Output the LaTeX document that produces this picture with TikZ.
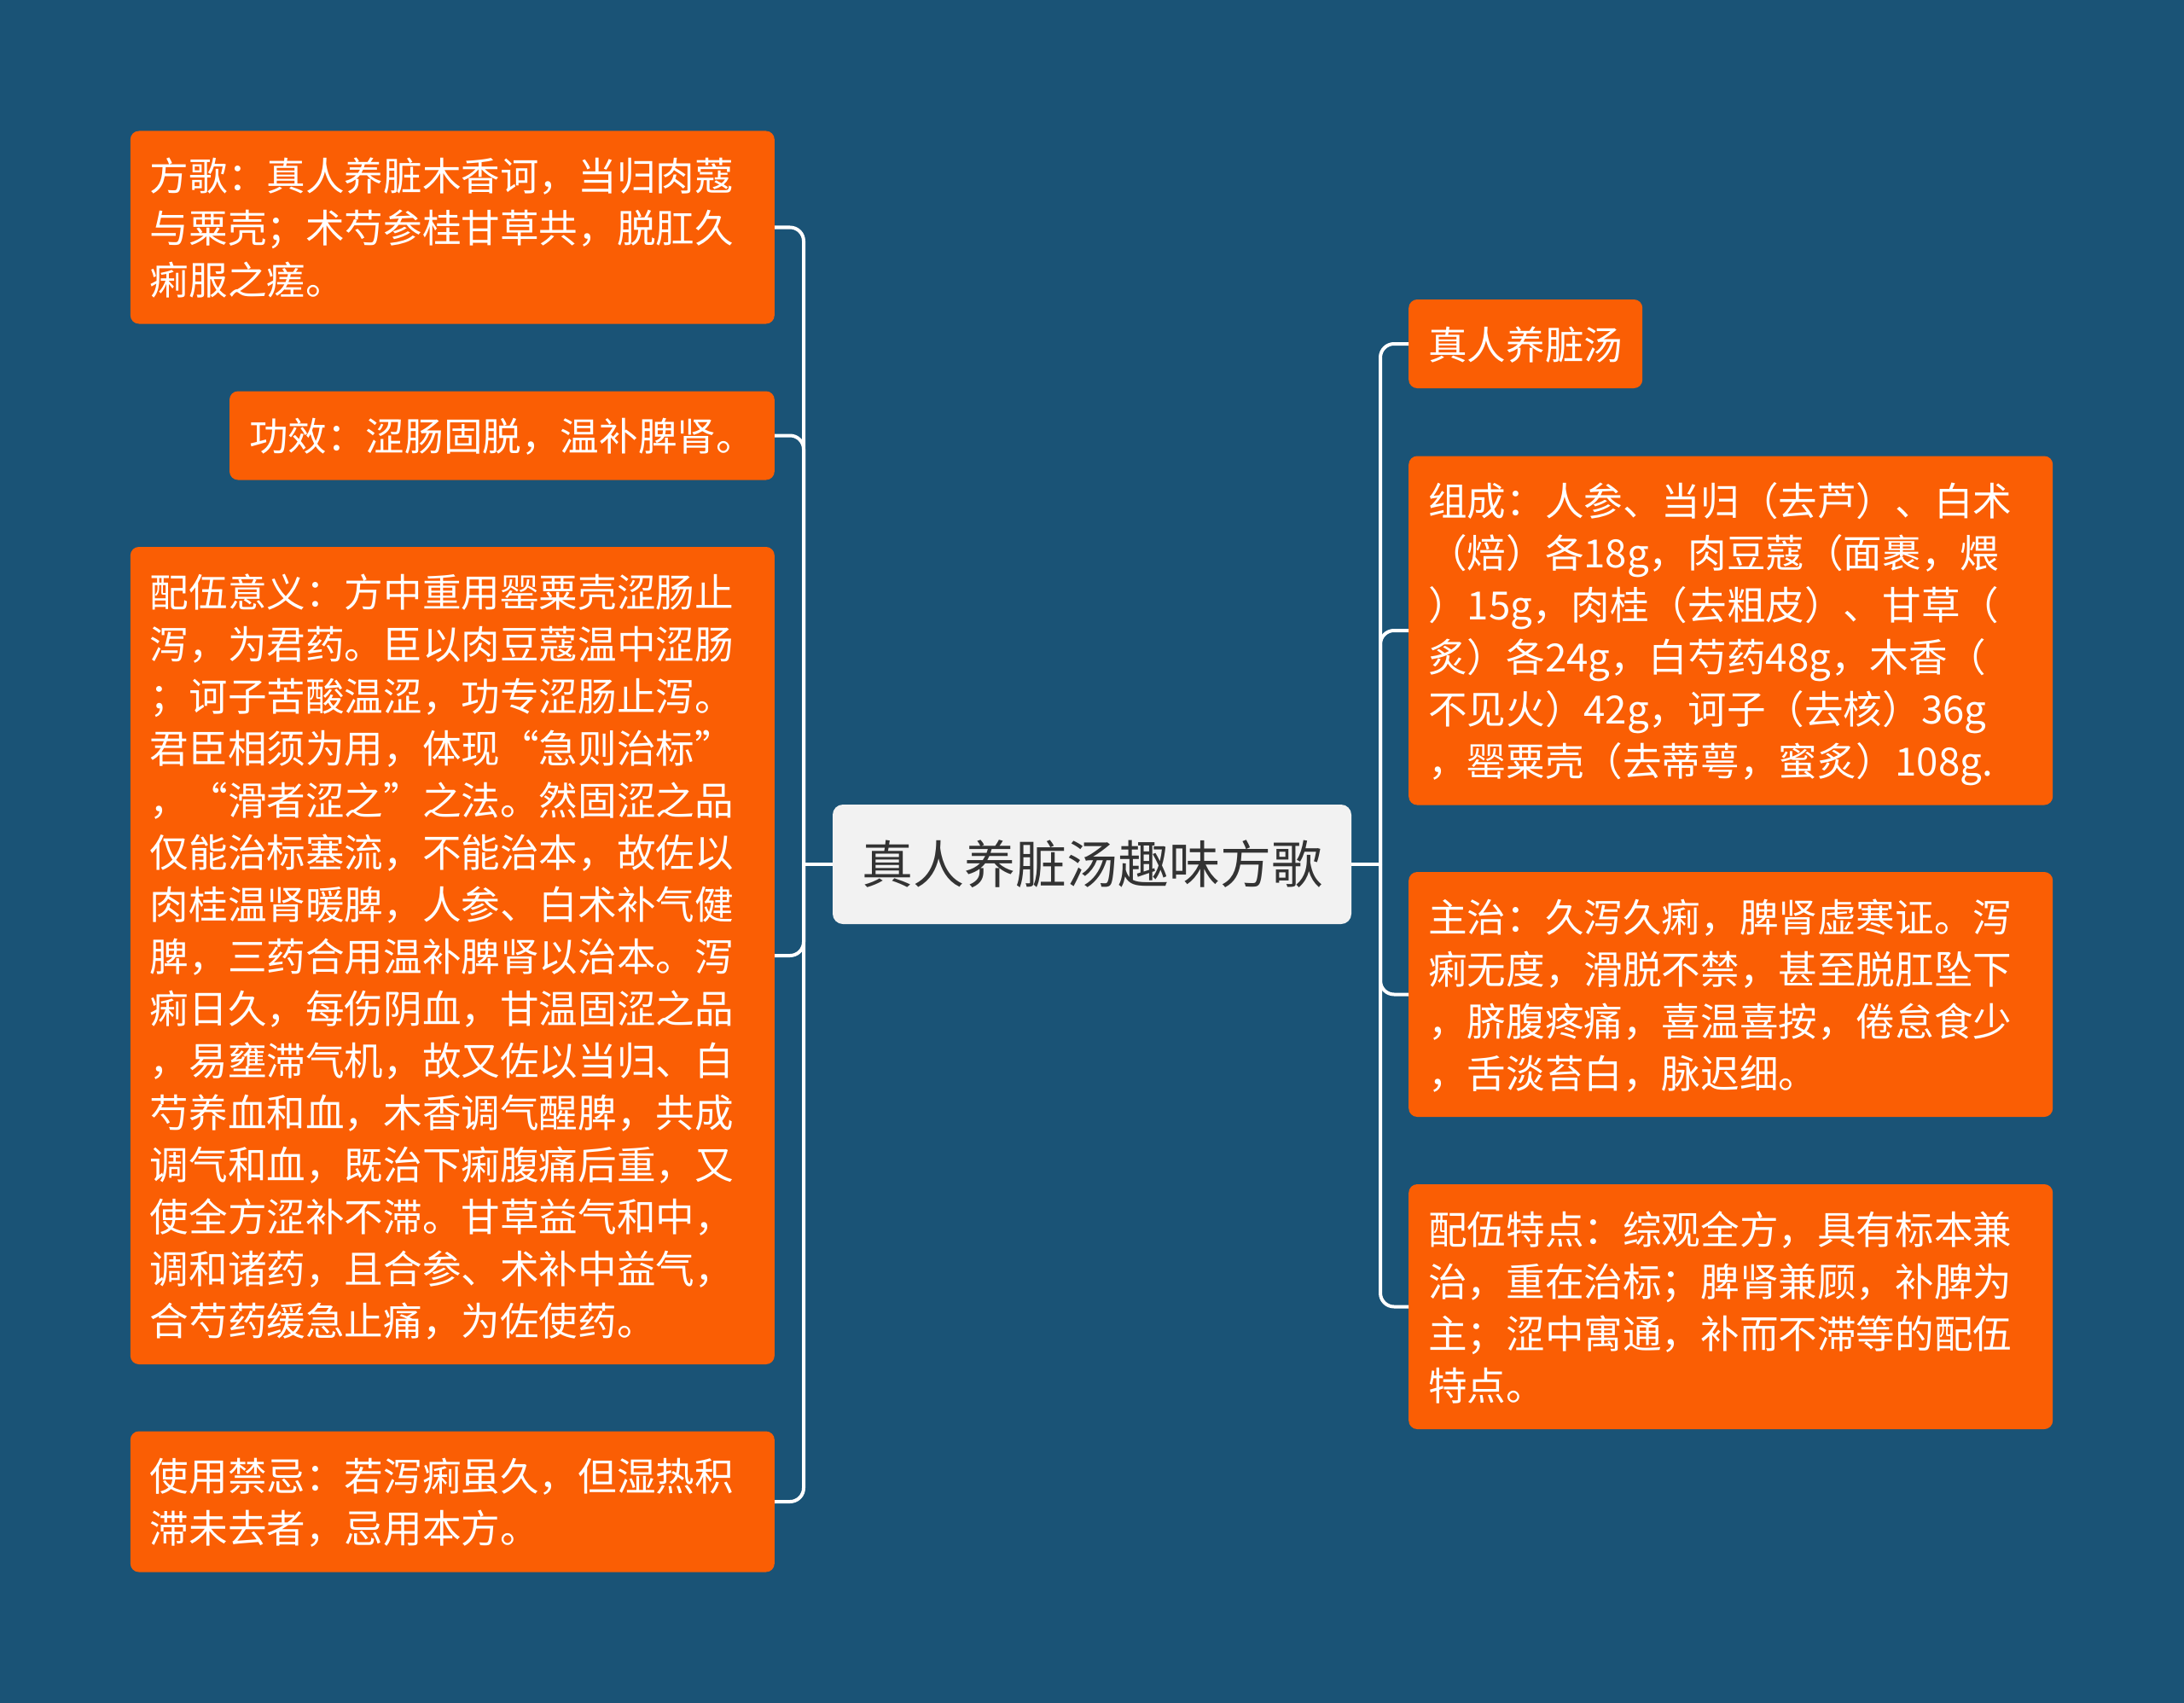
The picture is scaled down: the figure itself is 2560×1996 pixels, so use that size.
\documentclass[tikz,border=0pt]{standalone}
\usepackage{fontspec}
\usepackage{tikz}
\setmainfont{Noto Sans CJK SC}

\definecolor{bgblue}{RGB}{26,83,118}
\definecolor{leaforange}{RGB}{250,94,4}
\definecolor{rootgray}{RGB}{242,242,242}
\definecolor{roottext}{RGB}{51,51,51}
\newcommand\lnstrut{\rule[-12.2pt]{0pt}{61pt}}

\begin{document}
\begin{tikzpicture}[
                    x=1pt, y=-1pt,
                    leaf/.style={
                        fill=leaforange,
                        text=white,
                        rounded corners=10pt,
                        inner xsep=23pt,
                        inner ysep=21.5pt,
                        align=left,
                        font=\fontsize{45.6pt}{61pt}\selectfont,
                        execute at begin node=\lnstrut,
                        execute at end node=\lnstrut
                    },
                    wide/.style={text width=709pt},
                    root/.style={
                        fill=rootgray,
                        text=roottext,
                        rounded corners=12pt,
                        minimum width=608pt,
                        minimum height=140pt,
                        inner sep=0pt,
                        font=\fontsize{60pt}{72pt}\selectfont
                    },
                    conn/.style={draw=white, line width=4pt, rounded corners=16pt}
                ]

                    \fill[bgblue] (0,0) rectangle (2560,1996);

                    \node[root] (root) at (1280,1013) {真人养脏汤趣味方歌};

                    % Left side
                    \node[leaf, wide, anchor=east] (fangge) at (908,266.5) {方歌：真人养脏木香诃，当归肉蔻\\与粟壳；术芍参桂甘草共，脱肛久\\痢服之瘥。};
                    \node[leaf, anchor=east] (gongxiao) at (908,510.5) {功效：涩肠固脱，温补脾肾。};
                    \node[leaf, wide, anchor=east] (peiwu) at (908,1120) {配伍意义：方中重用罂粟壳涩肠止\\泻，为君药。臣以肉豆蔻温中涩肠\\；诃子苦酸温涩，功专涩肠止泻。\\君臣相须为用，体现“急则治标”\\，“滑者涩之”之法。然固涩之品\\仅能治标塞流，不能治本，故佐以\\肉桂温肾暖脾，人参、白术补气健\\脾，三药合用温补脾肾以治本。泻\\痢日久，每伤阴血，甘温固涩之品\\，易壅滞气机，故又佐以当归、白\\芍养血和血，木香调气醒脾，共成\\调气和血，既治下痢腹痛后重，又\\使全方涩补不滞。甘草益气和中，\\调和诸药，且合参、术补中益气，\\合芍药缓急止痛，为佐使药。};
                    \node[leaf, wide, anchor=east] (jinji) at (908,1760) {使用禁忌：若泻痢虽久，但湿热积\\滞未去者，忌用本方。};

                    % Right side
                    \node[leaf, anchor=west] (name) at (1651,403) {真人养脏汤};
                    \node[leaf, wide, anchor=west] (zucheng) at (1651,739) {组成：人参、当归（去芦）、白术\\（焙）各18g，肉豆蔻（面裹，煨\\）15g，肉桂（去粗皮）、甘草（\\炙）各24g，白芍药48g，木香（\\不见火）42g，诃子（去核）36g\\，罂粟壳（去蒂萼，蜜炙）108g.};
                    \node[leaf, wide, anchor=west] (zhuzhi) at (1651,1165.5) {主治：久泻久痢，脾肾虚寒证。泻\\痢无度，滑脱不禁，甚至脱肛坠下\\，脐腹疼痛，喜温喜按，倦怠食少\\，舌淡苔白，脉迟细。};
                    \node[leaf, wide, anchor=west] (tedian) at (1651,1531.5) {配伍特点：综观全方，具有标本兼\\治，重在治标；脾肾兼顾，补脾为\\主；涩中寓通，补而不滞等的配伍\\特点。};

                    \coordinate (ljoin) at (942,1013);
                    \coordinate (rjoin) at (1618,1013);

                    % Edges
                    \draw[conn] (root.west) -- (ljoin);
                    \draw[conn] (ljoin) |- (fangge.east);
                    \draw[conn] (ljoin) |- (gongxiao.east);
                    \draw[conn] (ljoin) |- (peiwu.east);
                    \draw[conn] (ljoin) |- (jinji.east);
                    \draw[conn] (root.east) -- (rjoin);
                    \draw[conn] (rjoin) |- (name.west);
                    \draw[conn] (rjoin) |- (zucheng.west);
                    \draw[conn] (rjoin) |- (zhuzhi.west);
                    \draw[conn] (rjoin) |- (tedian.west);
                \end{tikzpicture}
\end{document}
